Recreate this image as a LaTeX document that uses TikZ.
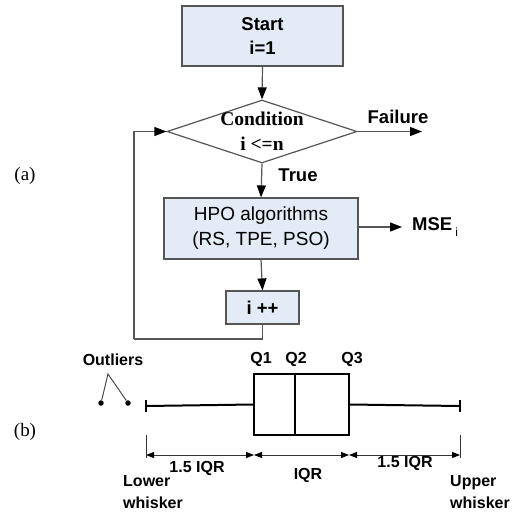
\documentclass[tikz,border=0pt]{standalone}
\usepackage{fontspec}
\setmainfont{Liberation Serif}
\setsansfont{Liberation Sans}
\usetikzlibrary{shapes.geometric,arrows.meta}
\definecolor{boxfill}{HTML}{E3EBF6}
\definecolor{boxline}{HTML}{555555}
\tikzset{
  procbox/.style={draw=boxline, fill=boxfill, line width=1.2pt, align=center, inner sep=0pt},
  flowline/.style={draw=boxline, line width=1.2pt},
  flowarrow/.style={flowline, -{Triangle[length=12pt,width=9pt,color=black]}},
  boldsans/.style={font=\sffamily\bfseries\fontsize{18.5}{24}\selectfont},
  plainsans/.style={font=\sffamily\fontsize{19}{25}\selectfont},
  plotline/.style={draw=black, line width=2pt},
  dimline/.style={draw=black!80, line width=0.9pt},
  dimarrow/.style={dimline, {Triangle[length=8pt,width=6pt,color=black]}-{Triangle[length=8pt,width=6pt,color=black]}},
  plotlabel/.style={font=\sffamily\bfseries\fontsize{16}{22}\selectfont, inner sep=0pt},
  panellabel/.style={font=\fontsize{19}{22}\selectfont, inner sep=0pt}
}
\begin{document}
\begin{tikzpicture}[x=1pt,y=-1pt]
\useasboundingbox (0,0) rectangle (522,512);

% ---- (a) flowchart ----
\node[procbox, boldsans, minimum width=161pt, minimum height=60pt] (start) at (262.5,36) {Start\\i=1};
\node[diamond, draw=boxline, line width=1.2pt, minimum width=190pt, minimum height=63pt, inner sep=0pt] (cond) at (262,131.5) {};
\node[font=\bfseries\fontsize{19.5}{25}\selectfont, align=center, inner sep=0pt] (condtxt) at (cond.center) {Condition\\i <=n};
\node[procbox, plainsans, minimum width=194pt, minimum height=61pt] (hpo) at (261,228.5) {HPO algorithms\\(RS, TPE, PSO)};
\node[procbox, boldsans, minimum width=73pt, minimum height=33pt] (inc) at (262.5,307.5) {i ++};

\coordinate (failend) at (422,131.5);
\coordinate (mseend) at (402,227);
\coordinate (loopc) at (134,339);

\draw[flowarrow] (start.south) -- (cond.north);
\draw[flowarrow] (cond.south) -- (hpo.north);
\draw[flowarrow] (hpo.south) -- (inc.north);
\draw[flowarrow] (cond.east) -- (failend);
\draw[flowarrow] (hpo.east |- mseend) -- (mseend);
\draw[flowline] (inc.south) |- (loopc);
\draw[flowarrow] (loopc) |- (cond.west);

\node[boldsans, inner sep=0pt] (fail) at (398,117) {Failure};
\node[boldsans, inner sep=0pt] (true) at (298,175) {True};
\node[boldsans, inner sep=0pt, anchor=west] (mse) at (412,227) {MSE\,\raisebox{-6pt}{\sffamily\mdseries\fontsize{12}{14}\selectfont i}};

\node[panellabel] (la) at (25,176) {(a)};
\node[panellabel] (lb) at (25,432) {(b)};

% ---- (b) box plot ----
\node[plotline, minimum width=95pt, minimum height=61pt, inner sep=0pt] (box) at (301.5,404.5) {};
\coordinate (medtop) at (295,374);
\coordinate (medbot) at (295,435);
\draw[plotline] (medtop) -- (medbot);

\coordinate (lw) at (146,406);
\coordinate (uw) at (460,406);
\coordinate (lwt) at (146,400);
\coordinate (lwb) at (146,412);
\coordinate (uwt) at (460,400);
\coordinate (uwb) at (460,412);
\draw[plotline] (lw) -- (box.west);
\draw[plotline] (box.east) -- (uw);
\draw[plotline] (lwt) -- (lwb);
\draw[plotline] (uwt) -- (uwb);

\node[plotlabel] (q1) at (261,359) {Q1};
\node[plotlabel] (q2) at (296,359) {Q2};
\node[plotlabel] (q3) at (352,359) {Q3};

\node[plotlabel] (outl) at (113,360) {Outliers};
\coordinate (apex) at (108,374);
\node[circle, fill=black, inner sep=0pt, minimum size=5.5pt] (o1) at (101,403) {};
\node[circle, fill=black, inner sep=0pt, minimum size=5.5pt] (o2) at (128,403) {};
\draw[draw=black!70, line width=1pt] (o1) -- (apex) -- (o2);

% dimension lines
\coordinate (dl0) at (146,435);
\coordinate (dl1) at (146,458);
\coordinate (dr0) at (460,435);
\coordinate (dr1) at (460,458);
\draw[dimline] (dl0) -- (dl1);
\draw[dimline] (dr0) -- (dr1);
\coordinate (a0) at (146,455);
\coordinate (a1) at (254,455);
\coordinate (a2) at (349,455);
\coordinate (a3) at (460,455);
\draw[dimarrow] (a0) -- (a1);
\draw[dimarrow] (a1) -- (a2);
\draw[dimarrow] (a2) -- (a3);

\node[plotlabel] (iqr1) at (197,468) {1.5 IQR};
\node[plotlabel] (iqr) at (308,475) {IQR};
\node[plotlabel] (iqr2) at (405,463) {1.5 IQR};
\node[plotlabel, align=left, anchor=west] (lower) at (123,492) {Lower\\whisker};
\node[plotlabel, align=left, anchor=west] (upper) at (450,492) {Upper\\whisker};
\end{tikzpicture}
\end{document}
